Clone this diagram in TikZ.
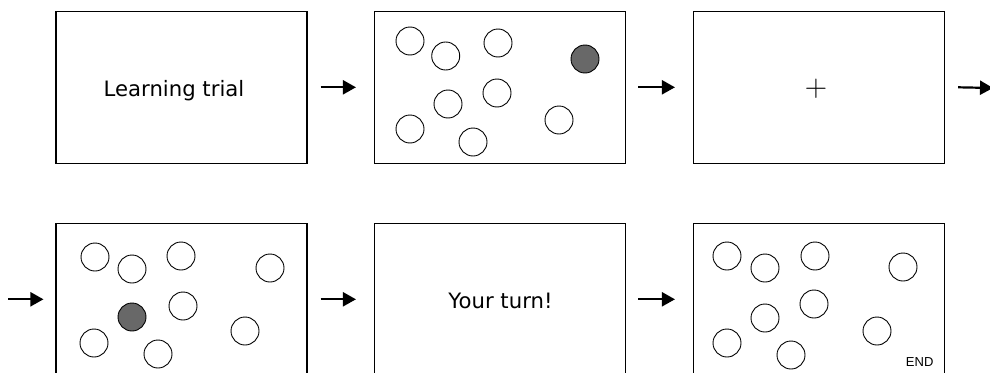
\documentclass[tikz,border=0pt]{standalone}
\usepackage{fontspec}
\newfontfamily\dvsans{DejaVu Sans}
\newfontfamily\libsans{Liberation Sans}
\usetikzlibrary{arrows.meta}
\definecolor{dotgray}{RGB}{104,104,104}
\begin{document}
\begin{tikzpicture}[x=1pt,y=-1pt,
  screen/.style={draw,line width=1.1pt,minimum width=251pt,minimum height=152pt,inner sep=0pt},
  dot/.style={circle,draw,line width=0.9pt,minimum size=28pt,inner sep=0pt},
  target/.style={dot,fill=dotgray},
  flow/.style={line width=2.2pt,-{Triangle[length=13pt,width=14pt]}},
  screentext/.style={anchor=base,inner sep=0pt,font=\dvsans\fontsize{21.2}{25}\selectfont},
  endtext/.style={anchor=base,inner sep=0pt,font=\libsans\fontsize{13}{15}\selectfont}]
\clip (0,0) rectangle (990,372);
% screens
\node[screen] (b1) at (181.5,87.3) {};
\node[screen] (b2) at (500,87.3) {};
\node[screen] (b3) at (819,87.3) {};
\node[screen] (b4) at (181.5,299.3) {};
\node[screen] (b5) at (500,299.3) {};
\node[screen] (b6) at (819,299.3) {};
% texts
\node[screentext] (t1) at (174,96.7) {Learning trial};
\node[screentext] (t5) at (500.5,308.3) {Your turn!};
\node[inner sep=0pt,font=\fontsize{31}{31}\selectfont] (fix) at (816,89) {+};
\node[endtext] (tend) at (919.7,366.7) {END};
% screen 2 dots
\node[dot] (a1) at (410,41) {};
\node[dot] (a2) at (445.7,56) {};
\node[dot] (a3) at (498,43) {};
\node[target] (a4) at (585,59) {};
\node[dot] (a5) at (448,104) {};
\node[dot] (a6) at (497,93) {};
\node[dot] (a7) at (410,129) {};
\node[dot] (a8) at (473,142) {};
\node[dot] (a9) at (559,120) {};
% screen 4 dots
\node[dot] (c1) at (95,257) {};
\node[dot] (c2) at (132,269) {};
\node[dot] (c3) at (181,256) {};
\node[dot] (c4) at (270,268) {};
\node[target] (c5) at (132,317) {};
\node[dot] (c6) at (183,306) {};
\node[dot] (c7) at (245,331) {};
\node[dot] (c8) at (94,343) {};
\node[dot] (c9) at (158,354) {};
% screen 6 dots
\node[dot] (d1) at (727,256) {};
\node[dot] (d2) at (765,268) {};
\node[dot] (d3) at (815,256) {};
\node[dot] (d4) at (903,267) {};
\node[dot] (d5) at (765,318) {};
\node[dot] (d6) at (814,304) {};
\node[dot] (d7) at (877,331) {};
\node[dot] (d8) at (727,343) {};
\node[dot] (d9) at (791,355) {};
% arrows
\coordinate (out) at (993,88);
\coordinate (in) at (8,299.3);
\draw[flow] ([xshift=13pt]b1.east) -- ([xshift=-18pt]b2.west);
\draw[flow] ([xshift=12pt]b2.east) -- ([xshift=-18pt]b3.west);
\draw[flow] ([xshift=13pt]b3.east) -- (out);
\draw[flow] (in) -- ([xshift=-12pt]b4.west);
\draw[flow] ([xshift=13pt]b4.east) -- ([xshift=-18pt]b5.west);
\draw[flow] ([xshift=12pt]b5.east) -- ([xshift=-18pt]b6.west);
\end{tikzpicture}
\end{document}
